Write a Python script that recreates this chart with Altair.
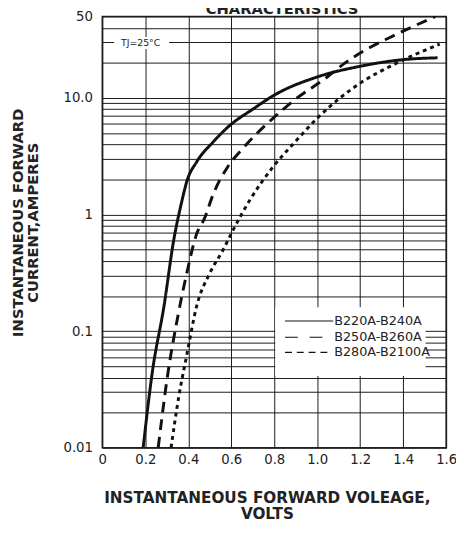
import altair as alt
import pandas as pd

# ---- data ----
series_names = ["B220A-B240A", "B250A-B260A", "B280A-B2100A"]

solid_v = [0.19, 0.233, 0.287, 0.332, 0.37, 0.393, 0.439, 0.515, 0.591, 0.698, 0.805, 1.003, 1.2, 1.399, 1.56]
solid_i = [0.01, 0.045, 0.164, 0.6, 1.3, 1.92, 2.83, 4.18, 5.77, 7.96, 10.7, 15.2, 18.7, 21.3, 22.1]

dashed_v = [0.26, 0.302, 0.355, 0.393, 0.439, 0.477, 0.515, 0.584, 0.652, 0.789, 0.896, 1.048, 1.125, 1.247, 1.338, 1.55]
dashed_i = [0.01, 0.0397, 0.145, 0.314, 0.683, 0.94, 1.48, 2.57, 3.66, 6.56, 9.67, 15.2, 19.7, 27.2, 33.0, 50]

dotted_v = [0.32, 0.355, 0.393, 0.439, 0.5, 0.561, 0.607, 0.683, 0.789, 0.896, 1.003, 1.2, 1.36, 1.57]
dotted_i = [0.01, 0.0269, 0.0624, 0.164, 0.314, 0.494, 0.728, 1.3, 2.49, 4.18, 6.78, 13.4, 19.5, 29]

x_ticks = [0, 0.2, 0.4, 0.6, 0.8, 1.0, 1.2, 1.4, 1.6]
y_grid = [0.01, 0.02, 0.03, 0.04, 0.05, 0.06, 0.07, 0.08, 0.09,
          0.1, 0.2, 0.3, 0.4, 0.5, 0.6, 0.7, 0.8, 0.9,
          1, 2, 3, 4, 5, 6, 7, 8, 9,
          10, 20, 30, 40, 50]

rows = []
for name, vs, cs in zip(series_names, [solid_v, dashed_v, dotted_v], [solid_i, dashed_i, dotted_i]):
    for k, (v, c) in enumerate(zip(vs, cs)):
        rows.append({"series": name, "v": v, "i": c, "k": k})
df = pd.DataFrame(rows)

FONT = "DejaVu Sans"
W, H = 350, 439

x_enc = alt.X("v:Q", scale=alt.Scale(domain=[0, 1.6], nice=False, zero=False),
              axis=alt.Axis(values=x_ticks, grid=True, ticks=False, tickSize=0, domain=False,
                            labelPadding=5, labelFlush=False, labelOverlap=False,
                            labelExpr="datum.value == 0 ? '0' : format(datum.value, '.1f')",
                            title=None))
y_enc = alt.Y("i:Q", scale=alt.Scale(type="log", domain=[0.01, 50], nice=False),
              axis=alt.Axis(values=y_grid, grid=True, ticks=False, tickSize=0, domain=False,
                            labelPadding=10, labelFlush=False, labelOverlap=False,
                            labelExpr="datum.value == 10 ? '10.0' : ((datum.value == 0.01 || datum.value == 0.1 || datum.value == 1 || datum.value == 50) ? format(datum.value, '~g') : '')",
                            title=None))

curves = alt.Chart(df).mark_line(strokeWidth=3, color="#111111", interpolate="monotone", clip=True).encode(
    x=x_enc,
    y=y_enc,
    strokeDash=alt.StrokeDash("series:N", scale=alt.Scale(domain=series_names, range=[[1, 0], [11, 7], [4, 4]]),
                              legend=None),
    order="k:Q",
    detail="series:N",
)

one = pd.DataFrame({"a": [0]})
base = alt.Chart(one)

# white box behind legend and TJ label
legend_box = base.mark_rect(color="white").encode(
    x=alt.value(176), x2=alt.value(329), y=alt.value(296), y2=alt.value(366))
tj_box = base.mark_rect(color="white").encode(
    x=alt.value(12), x2=alt.value(68), y=alt.value(21), y2=alt.value(33))
tj_text = base.mark_text(font=FONT, fontSize=9.5, color="#222", align="center", baseline="middle").encode(
    x=alt.value(39), y=alt.value(27), text=alt.value("TJ=25°C"))

# legend entries
LY = [310, 326.5, 342]
leg_solid = base.mark_rule(strokeWidth=1.2, color="#111").encode(
    x=alt.value(186), x2=alt.value(235), y=alt.value(LY[0]))
leg_dash = base.mark_rule(strokeWidth=1.2, color="#111", strokeDash=[13, 12]).encode(
    x=alt.value(186), x2=alt.value(224), y=alt.value(LY[1]))
leg_dot = base.mark_rule(strokeWidth=1.2, color="#111", strokeDash=[7, 5]).encode(
    x=alt.value(186), x2=alt.value(229), y=alt.value(LY[2]))
leg_texts = [
    base.mark_text(font=FONT, fontSize=13, color="#222", align="left", baseline="middle").encode(
        x=alt.value(236), y=alt.value(ly), text=alt.value(nm))
    for ly, nm in zip(LY, series_names)
]

# titles
ytitle1 = base.mark_text(font=FONT, fontSize=15, fontWeight="bold", color="#222", angle=270,
                         align="center", baseline="middle").encode(
    x=alt.value(-86), y=alt.value(210), text=alt.value("INSTANTANEOUS FORWARD"))
ytitle2 = base.mark_text(font=FONT, fontSize=15, fontWeight="bold", color="#222", angle=270,
                         align="center", baseline="middle").encode(
    x=alt.value(-70), y=alt.value(210), text=alt.value("CURRENT,AMPERES"))
xtitle1 = base.mark_text(font=FONT, fontSize=15.5, fontWeight="bold", color="#222",
                         align="center", baseline="middle").encode(
    x=alt.value(168), y=alt.value(490), text=alt.value("INSTANTANEOUS FORWARD VOLEAGE,"))
xtitle2 = base.mark_text(font=FONT, fontSize=15.5, fontWeight="bold", color="#222",
                         align="center", baseline="middle").encode(
    x=alt.value(168), y=alt.value(507), text=alt.value("VOLTS"))
top_title = base.mark_text(font=FONT, fontSize=15, fontWeight="bold", color="#222",
                           align="center", baseline="alphabetic").encode(
    x=alt.value(183), y=alt.value(-3), text=alt.value("CHARACTERISTICS"))

chart = alt.layer(
    curves, legend_box, tj_box, tj_text,
    leg_solid, leg_dash, leg_dot, *leg_texts,
    ytitle1, ytitle2, xtitle1, xtitle2, top_title,
).properties(
    width=W, height=H,
    autosize=alt.AutoSizeParams(type="none"),
    padding={"left": 96, "top": 4, "right": 10, "bottom": 73},
).configure_view(
    stroke="#222", strokeWidth=1.6
).configure_axis(
    gridColor="#1a1a1a", gridWidth=1, gridOpacity=1,
    labelFont=FONT, labelFontSize=13.5, labelColor="#222",
)

chart.save("out.html", embed_options={"renderer": "svg", "actions": False})
